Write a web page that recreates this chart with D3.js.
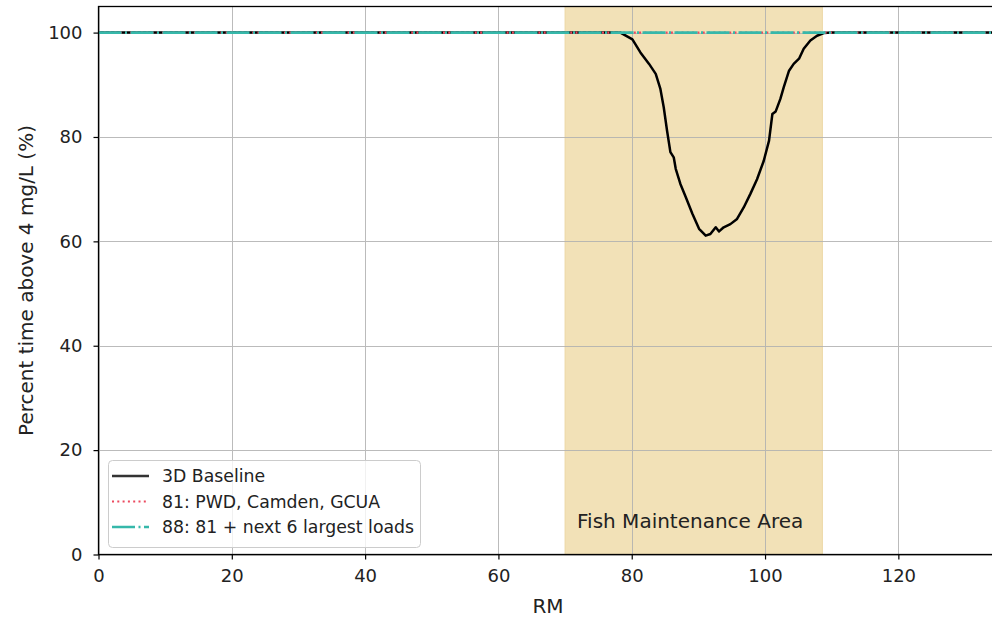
<!DOCTYPE html>
<html>
<head>
<meta charset="utf-8">
<script src="https://cdn.jsdelivr.net/npm/d3@7"></script>
<style>
  html, body { margin: 0; padding: 0; background: #fff; }
  svg { display: block; font-family: "DejaVu Sans", sans-serif; }
</style>
</head>
<body>
<svg id="chart" width="992" height="617"></svg>
<script>
// River mile positions and percent of time DO stays above 4 mg/L
const baselineRM = [0, 78.3, 80.1, 81.3, 82.6, 83.6, 84.3, 84.8, 85.3, 85.8, 86.3, 86.6, 87.3, 88.1, 89.1,
  90.1, 91.1, 91.8, 92.6, 93.1, 93.8, 94.8, 95.8, 96.8, 97.8, 98.8, 99.8, 100.6, 101.1, 101.6,
  102.3, 102.8, 103.6, 104.3, 105.1, 105.8, 106.8, 107.8, 108.8, 110, 134.2];
const baselinePct = [100, 100, 98.7, 96.2, 94.0, 92.1, 89.2, 85.7, 81.2, 77.1, 76.1, 73.9, 71.0, 68.5, 65.3,
  62.4, 61.1, 61.4, 62.7, 61.9, 62.7, 63.3, 64.3, 66.5, 69.1, 71.9, 75.4, 79.3, 84.4, 84.9,
  87.3, 89.5, 92.7, 94.0, 95.0, 96.9, 98.5, 99.4, 99.9, 100, 100];
const scenario81RM = [0, 134.2];
const scenario81Pct = [100, 100];
const scenario88RM = [0, 134.2];
const scenario88Pct = [100, 100];

const seriesNames = ["3D Baseline", "81: PWD, Camden, GCUA", "88: 81 + next 6 largest loads"];
const xTicks = [0, 20, 40, 60, 80, 100, 120];
const yTicks = [0, 20, 40, 60, 80, 100];
const fishArea = [70, 108.6];
const fishLabel = "Fish Maintenance Area";
const fishLabelRM = 71.8;
const xDomain = [0, 134.2];
const yDomain = [0, 105];

const svg = d3.select("#chart");
const plotL = 98.5, plotR = 993, plotT = 6.5, plotB = 554.5;

const x = d3.scaleLinear().domain(xDomain).range([plotL, plotR]);
const y = d3.scaleLinear().domain(yDomain).range([plotB, plotT]);

svg.append("defs").append("clipPath").attr("id", "plotClip")
  .append("rect").attr("x", plotL).attr("y", plotT).attr("width", plotR - plotL).attr("height", plotB - plotT);

// shaded fish maintenance reach
svg.append("rect")
  .attr("x", x(fishArea[0])).attr("y", plotT)
  .attr("width", x(fishArea[1]) - x(fishArea[0])).attr("height", plotB - plotT)
  .attr("fill", "#f2e1b7").attr("stroke", "#ecd7a4").attr("stroke-width", 1);

// grid
const grid = svg.append("g").attr("stroke", "#b0b0b0").attr("stroke-width", 1).attr("opacity", 0.85);
xTicks.forEach(t => grid.append("line").attr("x1", Math.round(x(t)) + 0.5).attr("x2", Math.round(x(t)) + 0.5)
  .attr("y1", plotT).attr("y2", plotB));
yTicks.forEach(t => grid.append("line").attr("y1", Math.round(y(t)) + 0.5).attr("y2", Math.round(y(t)) + 0.5)
  .attr("x1", plotL).attr("x2", plotR));

svg.append("text")
  .attr("x", x(fishLabelRM)).attr("y", 528)
  .attr("text-anchor", "start").attr("font-size", 20).attr("fill", "#222")
  .text(fishLabel);

const line = d3.line().x(d => x(d[0])).y(d => y(d[1]));
const plot = svg.append("g").attr("clip-path", "url(#plotClip)");

plot.append("path").datum(d3.zip(baselineRM, baselinePct))
  .attr("d", line).attr("fill", "none").attr("stroke", "#000").attr("stroke-width", 2.5)
  .attr("stroke-linejoin", "round");
plot.append("path").datum(d3.zip(scenario81RM, scenario81Pct))
  .attr("d", line).attr("fill", "none").attr("stroke", "#ec4a5f").attr("stroke-width", 2.2)
  .attr("stroke-dasharray", "2,3.3");
plot.append("path").datum(d3.zip(scenario88RM, scenario88Pct))
  .attr("d", line).attr("fill", "none").attr("stroke", "#36b8aa").attr("stroke-width", 2.7)
  .attr("stroke-dasharray", "23,3.5,2,3.5");

// axes
const xAxis = svg.append("g").attr("transform", `translate(0,${plotB})`)
  .call(d3.axisBottom(x).tickValues(xTicks).tickSize(5).tickPadding(10).tickFormat(d3.format("d")));
const yAxis = svg.append("g").attr("transform", `translate(${plotL},0)`)
  .call(d3.axisLeft(y).tickValues(yTicks).tickSize(5).tickPadding(11).tickFormat(d3.format("d")));
[xAxis, yAxis].forEach(a => {
  a.select(".domain").remove();
  a.selectAll("text").attr("font-size", 18).attr("fill", "#222").attr("font-family", "DejaVu Sans, sans-serif");
  a.selectAll("line").attr("stroke", "#000").attr("stroke-width", 1.2);
});

// spines
svg.append("rect").attr("x", plotL).attr("y", plotT).attr("width", plotR - plotL).attr("height", plotB - plotT)
  .attr("fill", "none").attr("stroke", "#000").attr("stroke-width", 1.3);

svg.append("text").attr("x", 548).attr("y", 613).attr("text-anchor", "middle")
  .attr("font-size", 20).attr("fill", "#222").text("RM");
svg.append("text").attr("transform", `translate(33,${(plotT + plotB) / 2}) rotate(-90)`)
  .attr("text-anchor", "middle").attr("font-size", 20).attr("fill", "#222")
  .text("Percent time above 4 mg/L (%)");

// legend
const lg = svg.append("g");
lg.append("rect").attr("x", 108.5).attr("y", 460.5).attr("width", 312).attr("height", 87).attr("rx", 4)
  .attr("fill", "#fff").attr("fill-opacity", 0.8).attr("stroke", "#ccc").attr("stroke-width", 1);
const legendStyles = [
  { stroke: "#333", width: 2.5, dash: null },
  { stroke: "#ec4a5f", width: 2.2, dash: "2,3.3" },
  { stroke: "#36b8aa", width: 2.7, dash: "23,3.5,2,3.5" }
];
const rowY = [476, 501.5, 527];
seriesNames.forEach((name, i) => {
  lg.append("line").attr("x1", 112).attr("x2", 149).attr("y1", rowY[i]).attr("y2", rowY[i])
    .attr("stroke", legendStyles[i].stroke).attr("stroke-width", legendStyles[i].width)
    .attr("stroke-dasharray", legendStyles[i].dash);
  lg.append("text").attr("x", 162).attr("y", rowY[i]).attr("dy", "0.35em")
    .attr("font-size", 17.3).attr("fill", "#222").text(name);
});
</script>
</body>
</html>
